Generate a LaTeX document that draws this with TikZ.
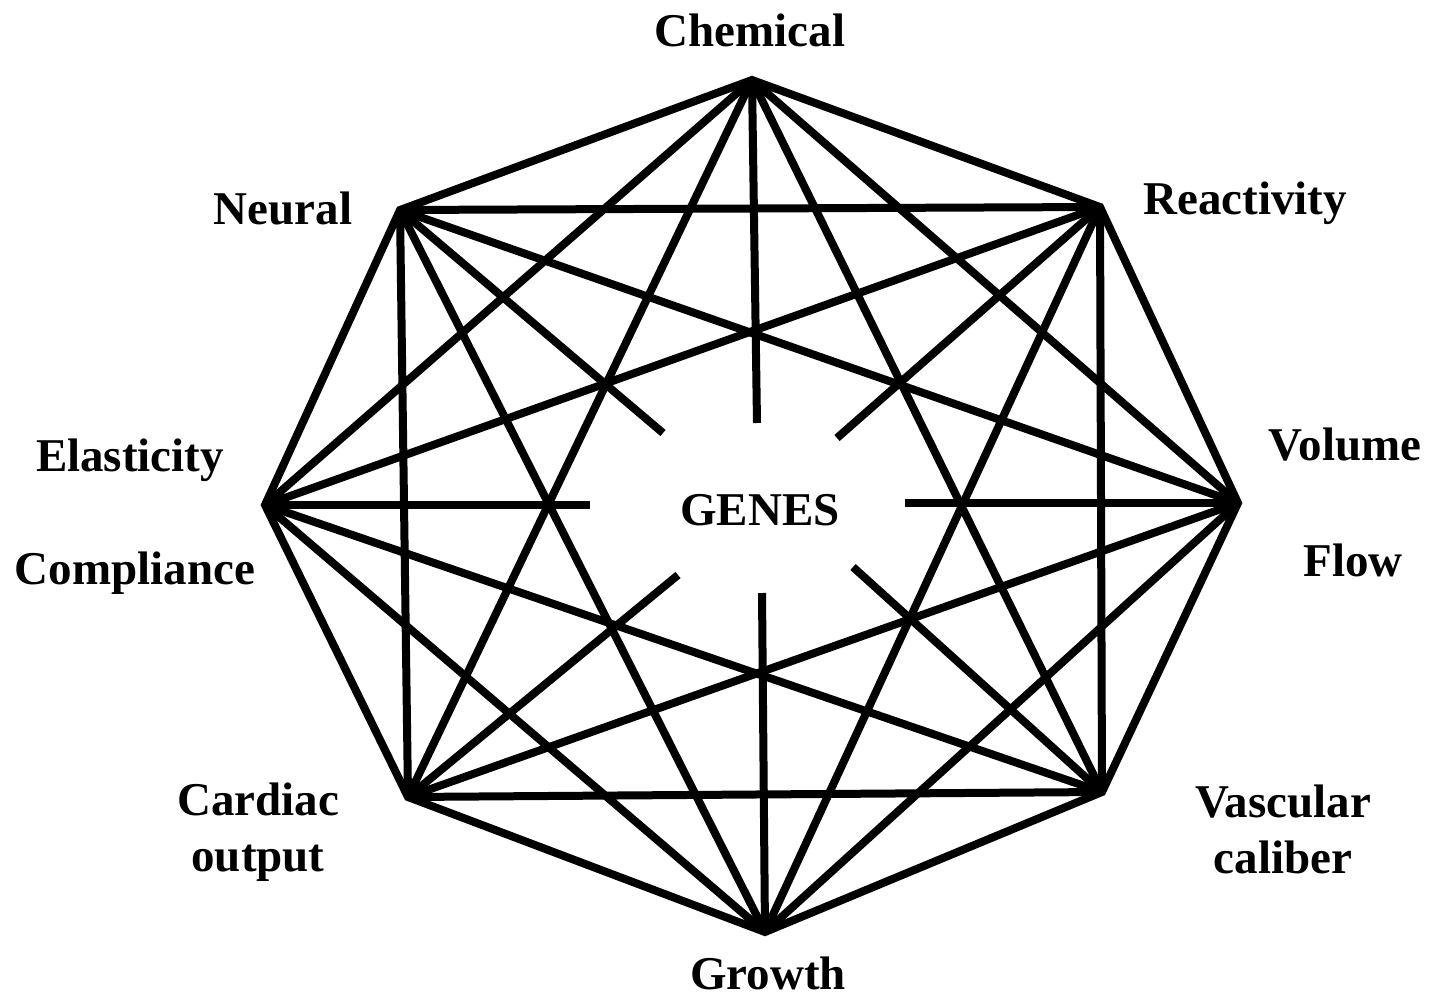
\documentclass[tikz,border=0pt]{standalone}
\usepackage{fontspec}
\setmainfont{Liberation Serif}
\begin{document}
\begin{tikzpicture}[x=1pt,y=-1pt,
  edge/.style={line width=8pt,line cap=butt},
  rim/.style={line width=8pt,line join=miter},
  lab/.style={font=\fontsize{47}{56}\selectfont\bfseries,inner sep=0pt,align=center}]
\useasboundingbox (0,0) rectangle (1432,1001);
% vertices
\coordinate (chem) at (752,80);
\coordinate (reac) at (1100,207);
\coordinate (volu) at (1238,503);
\coordinate (vasc) at (1102,792);
\coordinate (grow) at (765,932);
\coordinate (card) at (408,797);
\coordinate (elas) at (265,505);
\coordinate (neur) at (400,210);
% spoke ends
\coordinate (schem) at (757,423);
\coordinate (sreac) at (837,438);
\coordinate (svolu) at (905,503);
\coordinate (svasc) at (853,567);
\coordinate (sgrow) at (762,593);
\coordinate (scard) at (678,575);
\coordinate (selas) at (590,505);
\coordinate (sneur) at (663,433);
% rim
\draw[rim] (chem) -- (reac) -- (volu) -- (vasc) -- (grow) -- (card) -- (elas) -- (neur) -- cycle;
% chords
\foreach \a/\b in {chem/volu,chem/vasc,chem/card,chem/elas,
  reac/vasc,reac/grow,reac/elas,reac/neur,
  volu/grow,volu/card,volu/neur,
  vasc/card,vasc/elas,
  grow/elas,grow/neur,
  card/neur}
  \draw[edge] (\a) -- (\b);
% spokes
\foreach \a in {chem,reac,volu,vasc,grow,card,elas,neur}
  \draw[edge] (\a) -- (s\a);
% labels
\node[lab] (lchem) at (750,30) {Chemical};
\node[lab] (lneur) at (283,208) {Neural};
\node[lab] (lreac) at (1245,203) {Reactivity};
\node[lab] (lvolu) at (1345,445) {Volume};
\node[lab] (lflow) at (1353,560) {Flow};
\node[lab] (lelas) at (130,460) {Elasticity};
\node[lab] (lcomp) at (135,573) {Compliance};
\node[lab] (lcard) at (258,832) {Cardiac\\output};
\node[lab] (lvasc) at (1283,829) {Vascular\\caliber};
\node[lab] (lgrow) at (768,973) {Growth};
\node[lab] (genes) at (760,510) {GENES};
\end{tikzpicture}
\end{document}
